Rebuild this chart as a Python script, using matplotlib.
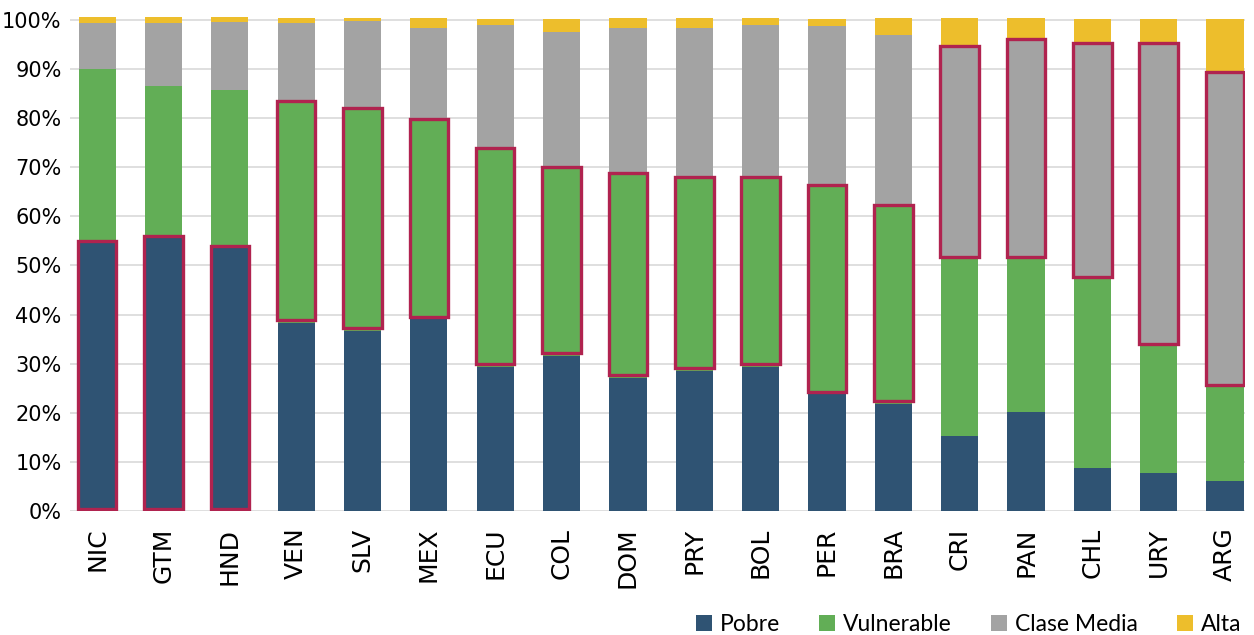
import numpy as np
import matplotlib
matplotlib.use("Agg")
import matplotlib.pyplot as plt
from matplotlib.patches import Rectangle
from matplotlib.ticker import PercentFormatter

paises = ["NIC", "GTM", "HND", "VEN", "SLV", "MEX", "ECU", "COL", "DOM",
          "PRY", "BOL", "PER", "BRA", "CRI", "PAN", "CHL", "URY", "ARG"]

pobre = [55.0, 55.9, 54.0, 38.3, 36.7, 39.0, 29.4, 31.6, 27.1,
         28.6, 29.4, 23.8, 21.8, 15.3, 20.2, 8.7, 7.8, 6.2]
vulnerable = [35.0, 30.7, 31.8, 45.2, 45.4, 40.8, 44.5, 38.4, 41.7,
              39.4, 38.6, 42.6, 40.5, 36.0, 31.1, 38.5, 25.8, 19.0]
clase_media = [9.3, 12.7, 13.7, 15.8, 17.6, 18.6, 25.0, 27.5, 29.6,
               30.4, 30.9, 32.4, 34.6, 43.4, 44.8, 48.1, 61.6, 64.2]
alta = [1.3, 1.3, 1.1, 1.1, 0.7, 2.0, 1.3, 2.7, 2.0,
        2.0, 1.5, 1.4, 3.5, 5.7, 4.3, 4.9, 5.0, 10.8]

# grupo resaltado con el recuadro rojo (0 pobre, 1 vulnerable, 2 clase media)
resaltado = [0, 0, 0, 1, 1, 1, 1, 1, 1, 1, 1, 1, 1, 2, 2, 2, 2, 2]

series = [("Pobre", pobre, "#2F5373"),
          ("Vulnerable", vulnerable, "#62AE56"),
          ("Clase Media", clase_media, "#A3A3A3"),
          ("Alta", alta, "#EDBE2C")]

plt.rcParams['font.family'] = ['DejaVu Sans']

fig = plt.figure(figsize=(12.54, 6.35), dpi=100)
ax = fig.add_axes([0.0558, 0.1953, 0.937, 0.7827])

x = np.arange(len(paises))
ancho = 0.56
base = np.zeros(len(paises))
bordes = []
for nombre, vals, color in series:
    v = np.array(vals) / 100
    ax.bar(x, v, ancho, bottom=base, color=color, label=nombre, zorder=2)
    bordes.append((base.copy(), base + v))
    base = base + v

for i, g in enumerate(resaltado):
    b0, b1 = bordes[g][0][i], bordes[g][1][i]
    ax.add_patch(Rectangle((x[i] - ancho / 2 - 0.01, b0 + 0.005), ancho + 0.02,
                           b1 - b0 - 0.005, fill=False, edgecolor="#B0234F",
                           linewidth=2.4, zorder=3))

ax.set_xlim(-0.41, 17.3)
ax.set_ylim(0, 1.012)
ax.set_yticks(np.arange(0, 1.01, 0.1))
ax.yaxis.set_major_formatter(PercentFormatter(1.0, decimals=0))
ax.grid(axis="y", color="#D9D9D9", linewidth=1.2, zorder=0)
ax.set_axisbelow(True)
for s in ax.spines.values():
    s.set_visible(False)
ax.tick_params(length=0)
ax.tick_params(axis="y", labelsize=15, pad=6)
ax.set_xticks(x)
ax.set_xticklabels(paises, rotation=90, fontsize=18)
ax.tick_params(axis="x", pad=12)

fig.legend(loc="center right", bbox_to_anchor=(0.999, 0.017), ncol=4,
           frameon=False, borderpad=0, handlelength=0.7, handleheight=0.7,
           handletextpad=0.35, columnspacing=1.7, prop={"family": "Lato", "size": 16.5})

fig.savefig("out.png", dpi=100)
